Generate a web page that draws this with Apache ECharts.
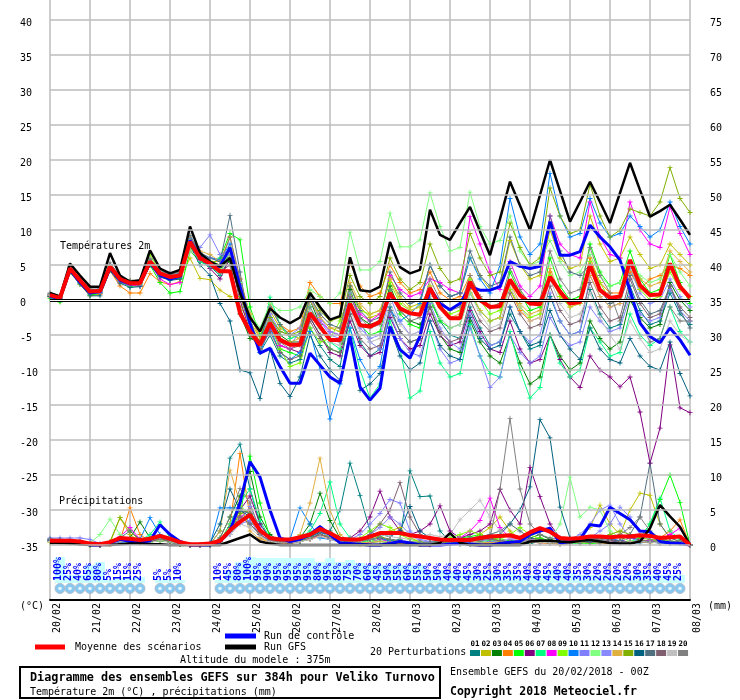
<!DOCTYPE html>
<html><head><meta charset="utf-8">
<script src="https://cdn.jsdelivr.net/npm/echarts/dist/echarts.min.js"></script>
<style>html,body{margin:0;padding:0;background:#fff}#c{width:740px;height:700px}</style>
</head><body><div id="c"></div>
<script>
// ---------- DATA ----------
const dates = ['20/02','21/02','22/02','23/02','24/02','25/02','26/02','27/02','28/02','01/03','02/03','03/03','04/03','05/03','06/03','07/03','08/03'];
const tempTicks = [40,35,30,25,20,15,10,5,0,-5,-10,-15,-20,-25,-30,-35];
const precipTicks = [75,70,65,60,55,50,45,40,35,30,25,20,15,10,5,0];

const tMean = [0.7,0.3,4.5,2.8,1.2,1.3,4.8,3.0,2.4,2.4,
 5.5,3.8,3.3,3.5,8.3,6.0,5.2,4.1,4.1,-1.9,
 -4.5,-6.4,-3.3,-5.7,-6.4,-6.4,-1.9,-3.8,-5.7,-5.7,
 -0.5,-3.6,-3.8,-3.1,1.0,-1.2,-1.9,-2.1,1.7,-1.0,
 -2.6,-2.6,2.6,0.0,-1.0,-0.9,2.9,0.7,-0.5,-0.6,
 3.3,1.2,-0.5,-0.3,5.0,1.4,0.3,0.5,5.7,2.1,
 0.7,0.8,5.2,1.9,0.3];
const tCtrl = [0.5,0.2,4.3,2.5,1.0,1.2,4.6,2.8,2.3,2.5,
 5.3,3.6,3.0,3.4,8.5,6.2,5.0,4.8,7.5,1.9,
 -3.3,-7.6,-6.9,-9.5,-11.9,-11.9,-7.6,-9.3,-11.0,-11.9,
 -5.2,-12.4,-14.3,-12.6,-3.8,-7.1,-8.3,-5.2,1.7,-0.5,
 -1.4,-0.5,1.9,1.4,1.4,1.9,5.5,4.8,4.5,4.8,
 11.2,6.4,6.4,6.9,10.7,9.0,7.6,5.7,1.4,-3.3,
 -5.2,-6.1,-4.0,-5.7,-7.9];
const tGfs = [1.0,0.5,5.2,3.5,1.9,1.9,6.7,3.5,2.6,2.8,
 7.1,4.5,3.8,4.3,10.5,6.7,5.5,4.8,6.0,1.0,
 -2.5,-4.5,-1.2,-2.5,-3.3,-2.5,1.0,-1.0,-2.8,-2.3,
 6.1,1.4,1.2,1.9,8.3,4.7,3.8,4.3,12.9,9.3,
 8.6,11.0,13.3,9.8,6.4,11.6,16.9,13.5,10.0,15.0,
 20.0,15.6,11.2,14.0,16.9,14.0,11.0,15.3,19.6,15.7,
 11.9,12.7,13.6,11.5,9.3];

const t01 = [0.5,0.1,4.2,2.5,0.8,1.0,4.5,2.6,2.0,2.1, 5.0,3.5,3.0,3.2,8.0,5.5,4.8,3.5,6.0,1.0, -4.0,-7.5,-5.0,-8.0,-9.0,-8.5,-4.0,-6.5,-8.5,-9.5, -2.0,-6.0,-8.0,-7.0,-1.0,-4.5,-6.0,-5.5,0.5,-3.0, -5.0,-5.5,-1.0,-4.0,-6.5,-6.0,-2.0,-4.5,-7.0,-6.5, 0.5,-3.0,-5.0,-4.5,1.5,-2.0,-4.0,-3.5,2.0,-1.5, -3.5,-3.0,1.0,-2.0,-3.5];
const t02 = [0.8,0.4,4.6,3.0,1.4,1.5,5.0,3.1,2.8,2.8, 5.5,3.6,3.2,3.0,6.0,3.1,2.9,1.4,0.5,-1.0, -3.0,-5.5,-1.5,-4.0,-5.0,-5.5,0.5,-2.5,-4.0,-4.5, 2.0,-1.0,-2.5,-2.0,3.0,0.5,-1.0,-0.5,5.0,2.0, 0.5,1.0,6.0,3.5,1.5,2.0,8.5,5.0,3.0,3.5, 10.0,6.0,4.5,5.0,12.0,8.0,5.5,6.0,9.0,6.5, 4.5,5.0,8.0,6.5,5.0];
const t03 = [0.6,0.2,4.4,2.7,1.1,1.2,4.7,2.9,2.3,2.3, 5.3,3.6,3.1,3.4,8.1,5.8,5.0,4.5,5.5,-2.0, -5.5,-6.0,-2.5,-5.0,-6.0,-6.0,0.0,-3.5,-5.5,-5.5, 1.5,-2.5,-3.5,-3.0,2.0,-1.5,-3.0,-3.5,-1.0,-5.0, -7.0,-7.5,-3.0,-6.0,-8.0,-9.0,-5.0,-9.0,-12.0,-11.0, -5.0,-8.0,-10.0,-9.0,-3.0,-5.5,-7.0,-6.0,0.0,-2.5, -4.0,-3.5,2.5,0.0,-1.5];
const t04 = [0.4,-0.2,4.0,2.2,0.6,0.8,4.2,2.0,1.0,1.0, 3.8,2.6,2.2,2.6,7.5,6.0,5.5,5.5,9.0,3.0, -2.0,-5.5,-0.5,-3.5,-4.5,-4.0,2.5,0.5,-0.5,-0.5, 5.3,2.0,0.5,1.0,5.0,2.5,1.0,1.5,4.0,1.0, 0.0,0.5,3.5,0.5,-1.0,-0.5,1.5,-1.5,-3.0,-2.5, 4.0,0.5,-0.5,0.0,6.0,2.5,1.0,1.0,4.0,1.5, 3.0,3.5,5.0,4.5,3.5];
const t05 = [0.2,-0.3,4.0,2.3,0.7,0.9,4.4,2.6,2.0,2.0, 5.0,2.5,1.0,1.2,7.0,5.5,5.0,6.0,9.5,8.6, -1.0,-5.0,-3.0,-7.0,-7.5,-8.0,-2.5,-5.0,-7.0,-7.5, 0.0,-3.5,-5.0,-4.5,1.5,-2.0,-3.5,-4.0,0.0,-3.0, -4.0,-3.5,1.0,-1.5,-3.0,-2.5,4.0,1.0,-1.5,-1.0, 6.0,2.0,0.0,0.5,8.0,4.0,2.0,2.5,7.0,3.0, 1.0,1.5,6.5,2.5,-0.5];
const t06 = [0.7,0.3,4.5,2.8,1.3,1.4,4.9,3.0,2.5,2.5, 5.4,3.7,3.2,3.4,8.2,5.8,4.5,3.0,6.0,0.0, -4.5,-7.0,-4.0,-6.5,-7.0,-7.5,-2.5,-5.0,-7.5,-8.0, -3.0,-6.5,-8.0,-7.5,-2.5,-5.5,-7.0,-6.5,-2.0,-5.0, -6.5,-6.0,-1.5,-4.5,-7.0,-7.5,-3.0,-7.0,-9.0,-8.5, -5.0,-8.5,-11.0,-12.5,-8.0,-10.0,-11.0,-12.4,-11.0,-16.0, -23.3,-18.3,-6.4,-15.4,-16.1];
const t07 = [0.5,0.0,4.2,2.5,0.9,1.0,4.5,2.7,2.1,2.2, 5.2,3.4,2.9,3.1,7.8,5.5,4.8,3.8,7.0,1.5, -3.0,-6.5,0.4,-3.5,-5.5,-5.0,-1.0,-4.0,-6.0,-7.0, -4.0,-10.0,-14.0,-12.0,-3.0,-7.0,-14.0,-13.0,-4.5,-9.0, -11.0,-10.5,-3.5,-8.0,-10.5,-11.0,-4.5,-10.0,-14.0,-12.5, -5.0,-9.0,-11.0,-10.0,-4.0,-6.0,-8.0,-7.5,-2.0,-5.0, -6.5,-5.5,-1.0,-4.5,-6.0];
const t08 = [0.8,0.4,4.6,2.7,1.0,1.0,4.6,2.6,2.1,2.0, 5.2,3.0,2.2,2.5,8.0,5.7,5.0,4.5,7.5,1.5, -3.5,-6.0,-4.0,-6.5,-7.0,-6.0,-2.0,-3.0,-4.5,-5.0, 0.5,-2.0,-3.0,-2.0,3.5,1.5,0.5,1.0,3.0,2.5, 1.5,1.0,11.9,8.0,4.0,1.5,5.5,2.0,0.5,2.0, 12.0,8.0,6.5,6.0,14.0,9.0,6.5,6.0,14.0,10.0, 8.0,7.5,13.3,9.5,6.5];
const t09 = [0.6,0.2,4.4,2.7,1.2,1.3,4.8,3.1,2.6,2.7, 6.5,4.0,3.3,3.6,7.5,6.2,5.6,5.0,6.5,2.0, -3.0,-7.0,-3.5,-7.0,-9.5,-9.0,-4.0,-6.0,-5.5,-3.0, 1.0,-1.5,-2.0,-1.5,2.5,-0.5,-1.5,-1.0,2.0,-1.0, -2.0,-1.5,3.0,0.0,-2.0,-1.5,1.5,-1.0,-2.5,-2.0, 3.5,0.5,-1.0,-0.5,5.5,2.5,0.0,0.5,4.5,1.5, 0.0,0.5,4.0,1.5,0.5];
const t10 = [0.6,0.2,4.3,2.6,1.0,1.1,4.6,2.8,2.2,2.3, 5.4,3.9,3.5,3.8,8.8,6.5,6.0,5.8,8.0,2.0, -4.0,-7.5,-4.0,-7.5,-8.5,-7.5,-4.5,-9.9,-17.0,-12.0, -4.0,-8.5,-11.0,-9.5,-1.5,-3.0,-2.0,-0.5,5.0,2.0, 0.5,1.0,6.0,3.0,1.0,5.0,14.5,9.0,6.5,8.0, 18.1,12.0,9.0,9.5,14.5,11.0,9.0,9.5,12.0,10.5, 9.0,10.0,14.0,10.5,8.0];
const t11 = [0.7,0.2,4.4,2.8,1.3,1.4,5.0,3.2,2.6,2.6, 5.6,4.0,3.5,3.7,8.5,7.5,9.3,6.5,7.0,2.0, -3.5,-6.5,-2.0,-5.5,-6.5,-4.5,0.0,-2.5,-4.5,-5.0, 1.0,-3.0,-6.0,-7.0,-2.0,-5.5,-7.5,-8.0,-3.0,-7.0, -9.0,-8.5,-4.0,-8.0,-12.5,-11.0,-5.0,-7.5,-9.0,-8.0, -2.5,-5.0,-6.5,-6.0,-1.0,-3.0,-4.5,-4.0,0.5,-2.0, -3.0,-2.5,1.5,-1.5,-3.0];
const t12 = [0.7,0.3,4.5,2.9,1.3,1.4,4.9,3.1,2.5,2.5, 5.5,3.9,3.4,3.6,8.3,6.1,5.3,4.5,7.5,2.5, -2.0,-4.0,-0.5,-1.5,-1.5,-1.0,1.5,0.5,-0.5,1.0, 9.7,4.3,4.3,5.5,12.4,7.6,7.6,8.6,15.3,10.5, 7.0,7.5,15.4,10.5,8.0,8.5,12.0,7.0,5.0,5.5, 8.5,5.5,3.5,4.0,6.5,3.5,2.0,2.5,5.0,3.5, 2.5,3.0,6.5,4.0,2.0];
const t13 = [0.6,0.2,4.3,2.7,1.2,1.3,4.7,2.9,2.3,2.4, 5.3,3.7,3.2,3.5,8.1,6.5,6.0,5.5,6.5,1.0, -3.5,-6.0,-2.0,-4.5,-5.0,-4.0,0.5,-3.0,-5.0,-5.5, -1.0,-4.0,-5.5,-5.0,0.5,-3.0,-5.0,-4.5,-0.5,-4.0, -6.0,-7.0,-2.0,-5.0,-6.5,-6.0,-1.0,-4.5,-6.0,-5.0, 1.0,-3.0,-5.0,-4.5,3.5,0.5,-1.0,-0.5,4.5,1.0, -0.5,0.0,3.0,0.5,-1.0];
const t14 = [0.6,0.1,4.3,2.6,1.0,1.2,4.6,2.8,2.2,2.3, 5.4,3.8,3.4,3.9,9.0,7.0,6.5,5.5,7.0,1.0, -2.0,-5.5,-3.0,-5.5,-6.0,-5.5,0.0,-2.5,-4.0,-4.0, 2.5,-0.5,-2.0,-1.5,3.0,0.0,-1.5,-1.0,2.0,-1.0, -2.5,-2.0,1.5,-1.5,-3.0,-2.5,2.5,-0.5,-2.0,-1.5, 4.5,1.0,-1.0,-0.5,3.5,0.5,-1.0,-0.5,5.5,3.0, 2.0,2.5,7.0,5.5,4.0];
const t15 = [0.7,0.3,4.6,2.9,1.3,1.4,5.0,3.1,2.5,2.5, 5.6,3.9,3.3,3.5,8.4,6.0,5.3,4.2,6.0,0.5, -3.5,-6.0,-2.5,-4.5,-5.0,-4.5,1.0,-1.5,-3.0,-2.5, 3.5,0.5,-0.5,0.5,6.0,3.0,1.5,2.5,8.0,4.5, 2.5,3.0,9.5,6.0,3.5,4.0,11.0,7.5,5.0,6.0, 16.0,12.0,9.5,10.0,16.5,12.0,9.0,10.0,13.0,12.5, 12.0,14.0,18.9,14.5,12.5];
const t16 = [0.5,0.0,4.0,2.3,0.6,0.6,4.2,2.4,1.8,1.9, 5.0,3.3,2.8,3.0,7.8,5.0,3.5,-0.5,-3.0,-10.0, -10.4,-14.1,-7.0,-11.9,-13.8,-11.0,-5.0,-8.0,-10.0,-11.5, -5.5,-12.9,-12.0,-10.5,-4.0,-8.0,-10.0,-9.0,-3.0,-6.5, -8.0,-8.5,-2.5,-5.5,-7.0,-6.5,-1.0,-4.5,-6.5,-6.0, -1.5,-5.0,-7.0,-8.5,-4.0,-7.0,-8.5,-9.0,-5.5,-8.0, -9.5,-10.0,-6.0,-10.5,-13.7];
const t17 = [0.9,0.5,4.8,3.0,1.5,1.6,5.1,3.3,2.7,2.8, 5.8,4.2,3.7,4.0,9.2,6.8,6.0,5.5,12.1,4.0, -4.0,-6.0,-1.0,-3.5,-5.0,-5.0,0.5,-2.0,-3.5,-4.0, 2.0,-1.5,-3.0,-2.5,4.0,1.0,-0.5,0.0,5.0,2.0, 0.5,1.0,7.0,3.5,2.0,2.5,9.0,5.0,3.5,4.0, 12.0,7.0,4.0,3.5,5.0,1.5,-0.5,0.0,3.5,0.0, -2.0,-1.5,2.0,-1.5,-4.0];
const t18 = [0.6,0.2,4.4,2.7,1.1,1.2,4.7,2.9,2.3,2.4, 5.4,3.8,3.3,3.5,8.2,5.9,5.1,4.0,5.0,-1.0, -5.0,-7.0,-4.5,-7.5,-8.5,-8.0,-3.0,-5.5,-7.0,-7.5, -2.0,-5.5,-7.0,-6.5,-1.5,-4.5,-6.0,-5.5,-1.0,-4.5, -6.0,-5.5,0.0,-3.0,-4.5,-4.0,1.0,-2.0,-4.0,-3.5, 2.0,-1.5,-3.5,-3.0,2.5,-1.0,-3.0,-2.5,3.0,-0.5, -2.5,-2.0,2.0,-1.0,-2.5];
const t19 = [0.7,0.3,4.5,2.8,1.2,1.3,4.8,3.0,2.4,2.4, 5.4,3.8,3.3,3.5,7.0,6.0,5.2,4.0,6.0,1.0, -3.5,-6.5,-3.0,-6.0,-6.5,-6.0,-1.5,-4.0,-6.0,-6.5, -1.5,-4.5,-6.0,-5.5,-0.5,-3.5,-5.0,-4.5,0.5,-2.5, -4.0,-3.5,1.0,-2.0,-4.0,-3.5,2.0,-1.0,-3.0,-2.5, 3.0,-0.5,-2.5,-2.0,1.0,-2.5,-5.0,-7.0,-3.0,-5.5, -7.5,-7.0,-3.0,-5.0,-6.0];
const t20 = [1.0,0.6,5.0,3.3,1.7,1.8,5.3,3.4,2.8,2.9, 5.9,4.2,3.6,3.9,9.0,6.6,5.5,5.0,9.0,3.0, -3.0,-6.5,-3.0,-6.0,-7.0,-6.5,-1.0,-3.5,-5.5,-6.0, 0.5,-2.5,-4.0,-3.5,1.5,-1.5,-3.0,-2.5,3.0,0.0, -1.5,-1.0,3.5,0.5,-1.0,-0.5,4.5,1.5,-0.5,0.0, 7.0,3.0,1.0,1.5,7.5,3.5,1.0,-3.0,1.0,-3.0, -6.0,-5.5,-1.0,-3.0,-3.0];

const pMean = [0.6,0.6,0.6,0.5,0.2,0.1,0.4,1.0,0.9,0.7, 0.9,1.3,0.9,0.4,0.1,0.1,0.2,0.6,2.1,3.3, 4.3,2.1,1.0,0.8,0.8,1.1,1.5,2.3,1.7,0.9, 0.8,0.8,1.2,1.7,1.7,1.7,1.4,1.2,1.0,0.8, 0.7,0.7,0.7,1.0,1.2,1.3,1.4,1.0,1.8,2.4, 1.9,1.0,0.9,1.0,1.2,1.2,1.1,1.2,1.2,1.4, 1.3,1.0,1.1,1.2,0.0];
const pCtrl = [0.5,0.5,0.4,0.3,0,0,0.3,0.8,0.5,0.3, 0.6,2.9,1.5,0.5,0,0,0,0.5,2.0,6.0, 11.9,9.7,5.0,1.0,0.5,0.8,1.5,2.6,1.5,0.3, 0.2,0.1,0,0,0.2,0.5,0.3,0,0,0, 0.1,0.2,0.1,0,0,0.2,0.4,0.5,1.5,2.0, 2.4,0.3,0.5,0.8,2.9,2.7,5.4,4.5,3.6,2.0, 1.9,0.5,0.3,0.2,0];
const pGfs = [0.3,0.3,0.2,0.1,0,0,0,0.1,0.2,0.2, 0.1,0.1,0,0,0,0,0,0,0.5,1.0, 1.5,0.5,0.2,0,0,0,0,0,0,0, 0,0,0,0,0,0,0,0,0,0.3, 1.7,0.3,0,0,0,0,0,0,0.5,0.6, 0.6,0.5,0.4,0.6,0.7,0.5,0.3,0.2,0.2,0.5, 2.4,5.7,4.1,2.6,0];

const p01 = [0.8,0.7,0.6,0.4,0.1,0,0.2,0.6,0.5,0.3, 0.5,0.9,0.6,0.2,0,0,0.1,2.0,12.4,14.4, 8.0,3.0,1.0,0.5,0.3,0.6,1.0,1.5,2.0,5.0, 11.7,7.1,2.0,1.0,0.5,0.8,10.6,6.9,7.0,2.0, 0.5,0.2,0.1,0.3,0.5,0.4,0.6,0.3,0.2,0.5, 0.3,0.1,0.2,0.4,0.6,0.5,0.3,0.2,0.4,0.5, 0.6,0.3,0.2,0.3,0];
const p02 = [0.5,0.5,0.4,0.3,0,0,0.3,3.9,1.5,0.5, 0.6,1.0,0.8,0.2,0,0,0,0.5,2.5,4.5, 3.0,1.5,0.5,0.3,0.5,1.0,1.5,2.5,1.0,0.5, 0.3,0.5,1.0,1.5,2.0,2.5,1.0,0.5,0.3,0.2, 0.5,1.0,0.8,1.5,2.5,4.0,2.0,0.8,0.5,1.0, 0.5,0.3,0.5,1.0,2.5,5.7,3.0,1.5,5.0,7.4, 7.1,3.0,1.0,0.5,0];
const p03 = [0.6,0.6,0.5,0.4,0.1,0,0.2,0.8,1.0,3.3, 1.0,0.6,0.4,0.1,0,0,0,1.0,4.0,7.0, 10.5,4.0,1.5,0.5,0.5,1.0,3.0,7.4,3.5,1.0, 0.5,0.3,0.8,1.0,0.8,0.5,0.3,0.2,0.1,0.3, 0.2,0.1,0.3,0.5,0.6,0.8,0.5,0.3,1.0,1.5, 0.8,0.4,0.3,0.5,0.8,0.6,0.4,0.3,0.5,0.6, 0.5,0.8,0.4,0.3,0];
const p04 = [0.4,0.4,0.3,0.2,0,0,0.1,0.6,5.3,1.5, 0.5,0.8,0.6,0.1,0,0,0,0.5,3.0,13.1, 4.0,1.0,0.4,0.3,0.2,0.5,0.8,1.2,0.8,0.4, 0.2,0.1,0.3,0.5,0.4,0.3,0.2,0.1,0,0.1, 0.2,0.3,0.2,0.1,0.3,0.4,0.3,0.2,0.4,0.3, 0.2,0.1,0.2,0.3,0.4,0.3,0.2,0.3,0.5,0.4, 0.5,1.0,2.0,3.6,0];
const p05 = [0.5,0.5,0.4,0.3,0,0,0.3,0.5,0.4,0.3, 0.4,0.6,0.5,0.1,0,0,0,0.8,2.0,4.0, 12.7,6.0,1.0,0.5,0.3,0.5,0.8,1.5,1.0,0.6, 0.4,0.3,0.5,0.8,0.6,0.4,0.3,0.2,0.3,0.5, 0.8,1.0,1.2,1.5,1.0,0.8,0.6,0.5,0.8,1.0, 0.6,0.4,0.5,0.3,0.2,0.3,0.4,0.3,0.5,1.0, 3.0,6.5,10.0,6.1,0];
const p06 = [0.6,0.5,0.4,0.3,0.1,0,0.3,0.8,0.6,0.4, 0.8,1.2,0.8,0.2,0,0,0,0.4,2.5,5.0, 7.0,3.0,1.0,0.5,0.4,0.8,1.5,2.0,1.5,0.8, 1.0,2.0,4.0,7.7,4.0,2.0,1.5,2.0,3.0,5.6, 2.0,1.0,1.5,2.0,3.0,7.9,5.0,3.0,11.1,6.9, 3.0,1.0,0.5,0.3,0.5,1.0,0.8,0.5,1.0,0.8, 0.5,0.4,0.3,0.5,0];
const p07 = [0.5,0.5,0.4,0.3,0,0,0.2,0.6,0.5,0.6, 1.5,3.3,1.0,0.2,0,0,0,0.5,3.0,6.0, 8.0,3.5,1.0,0.5,0.5,1.0,2.0,4.5,9.0,3.0, 1.0,0.5,0.4,0.5,0.3,0.4,0.2,0.3,0.4,0.3, 0.5,0.3,0.2,0.4,0.6,0.5,0.4,0.3,0.8,0.5, 0.4,0.3,0.2,0.3,0.5,0.4,0.3,0.4,0.5,1.0, 3.0,6.7,2.0,0.8,0];
const p08 = [0.6,0.5,0.5,0.3,0.1,0,0.3,1.2,2.5,0.8, 0.5,0.8,0.5,0.1,0,0,0,0.5,2.0,4.0, 5.0,2.0,0.8,0.4,0.3,0.6,0.8,1.5,1.0,0.5, 0.3,0.2,0.4,0.8,0.5,0.3,0.2,0.2,0.1,0.2, 0.5,1.0,2.0,3.5,6.7,2.5,1.0,0.5,0.8,0.5, 0.3,0.2,0.3,0.5,0.4,0.3,0.5,0.4,0.3,0.5, 0.6,0.8,1.5,2.4,0];
const p09 = [0.5,0.4,0.4,0.3,0,0,0.3,0.5,0.6,0.4, 0.8,1.0,0.6,0.1,0,0,0,0.6,2.5,5.5, 4.5,2.0,0.8,0.5,0.4,0.6,1.0,2.0,1.5,0.8, 0.5,1.0,2.0,3.0,2.5,1.5,0.8,0.5,0.4,0.6, 1.0,1.5,2.0,1.5,1.0,0.8,1.5,2.5,1.5,0.8, 0.5,0.3,0.4,0.6,0.5,0.4,0.3,0.5,0.4,0.6, 0.5,0.8,0.6,0.4,0];
const p10 = [0.7,0.6,0.5,0.3,0.1,0,0.2,0.4,0.5,0.8, 3.9,1.5,0.5,0.1,0,0,0,5.3,5.3,5.3, 3.0,1.5,0.5,0.3,0.8,5.3,3.0,1.0,0.8,0.5, 0.3,0.5,0.8,1.0,0.6,0.4,0.3,0.2,0.3,0.5, 0.4,0.6,0.5,0.8,1.0,0.6,0.4,0.5,0.6,0.4, 0.3,0.2,0.4,0.6,0.5,0.8,1.0,0.6,0.4,0.3, 0.5,0.4,0.3,0.2,0];
const p11 = [1.0,1.0,1.0,1.0,0.8,0.2,0.3,1.0,0.8,0.5, 0.6,1.0,0.6,0.2,0,0,0,0.5,1.5,3.0, 3.5,1.5,0.6,0.4,0.5,0.8,1.5,2.0,1.0,0.5, 0.8,1.5,3.0,4.5,6.5,6.0,2.0,0.8,0.5,0.3, 0.4,0.5,0.3,0.6,0.8,0.5,0.4,0.6,0.5,0.3, 0.4,0.3,0.5,0.8,1.0,2.0,3.0,5.4,4.0,1.5, 0.8,0.5,0.4,0.3,0];
const p12 = [0.4,0.4,0.3,0.2,0.3,1.5,3.7,1.5,0.6,0.4, 0.5,0.8,0.5,0.1,0,0,0,0.4,2.0,3.5, 4.0,2.0,0.8,0.5,0.4,0.6,1.2,2.0,1.5,0.6, 0.4,0.3,0.5,0.6,0.4,0.3,0.2,0.3,0.2,0.4, 0.6,0.8,0.5,0.4,0.6,0.8,0.5,0.4,0.6,0.5, 0.6,3.0,9.7,4.0,5.4,5.0,2.0,1.0,0.6,0.5, 0.4,0.6,0.5,0.3,0];
const p13 = [0.6,0.6,0.5,0.4,0.1,0,0.2,0.6,0.5,0.4, 0.7,1.0,0.6,0.2,0,0,0,0.5,1.5,3.5, 5.5,2.5,0.8,0.4,0.3,0.5,1.0,1.8,1.2,0.6, 0.5,0.8,1.5,2.5,4.0,3.0,1.5,0.6,0.4,0.3, 0.5,0.6,0.4,0.3,0.5,0.6,0.8,1.0,0.6,0.4, 0.3,0.5,0.8,1.5,3.0,5.0,5.7,3.0,1.0,0.5, 0.4,0.3,0.5,0.4,0];
const p14 = [0.4,0.4,0.3,0.2,0,0,0.2,0.5,0.6,0.4, 0.5,0.7,0.5,0.1,0,0,0,2.0,10.7,6.0, 2.0,0.8,0.5,0.4,0.6,1.5,6.0,12.4,5.0,1.5, 0.5,0.3,0.4,0.5,0.3,0.2,0.2,0.1,0.2,0.3, 0.2,0.3,0.5,0.4,0.3,0.5,0.4,0.3,0.5,0.4, 0.3,0.2,0.3,0.4,0.3,0.5,0.4,0.3,0.5,0.4, 0.3,0.4,0.5,0.3,0];
const p15 = [0.5,0.5,0.4,0.3,0,0,0.5,3.9,2.0,0.6, 0.5,0.8,0.5,0.1,0,0,0,0.4,2.0,4.5, 5.0,2.0,0.8,0.5,0.4,0.6,1.0,1.5,1.2,0.6, 0.4,0.5,0.8,1.2,0.8,0.5,0.4,0.3,0.2,0.3, 0.4,0.5,0.8,1.2,1.0,0.6,0.4,0.5,0.6,0.4, 0.3,0.4,0.5,0.6,0.8,1.0,1.5,2.0,1.5,1.0, 0.8,0.6,0.5,0.4,0];
const p16 = [0.7,0.6,0.5,0.4,0.1,0,0.3,0.7,0.6,0.4, 0.6,0.9,0.6,0.2,0,0,0.3,3.0,8.0,5.0, 4.0,2.0,0.8,0.5,0.5,0.8,1.2,1.8,1.5,0.8, 0.6,0.8,1.0,1.5,1.2,2.0,5.5,2.0,1.0,0.5, 0.4,0.5,0.6,0.8,1.0,1.5,3.0,5.0,8.3,17.9, 15.3,5.4,1.0,0.5,0.4,0.5,0.6,0.4,0.3,0.5, 0.4,0.3,0.5,0.4,0];
const p17 = [0.8,0.7,0.6,0.4,0.1,0,0.3,1.0,2.0,0.8, 0.6,1.0,0.7,0.2,0,0,0,0.6,2.5,5.0, 4.5,2.0,0.8,0.5,0.4,0.8,1.5,2.5,1.5,0.8, 0.5,0.6,0.8,1.0,0.8,0.6,0.4,0.3,0.4,0.5, 0.6,0.8,1.0,1.2,1.5,2.0,3.0,2.0,1.0,0.8, 0.6,0.5,0.4,0.5,0.8,1.0,0.8,0.6,1.5,4.0, 11.7,3.0,1.0,0.5,0];
const p18 = [0.6,0.5,0.5,0.3,0.1,0,0.2,0.6,0.5,0.3, 0.5,0.8,0.6,0.1,0,0,0,0.5,2.0,4.0, 3.0,1.5,0.6,0.4,0.3,0.5,1.0,1.5,1.0,0.5, 0.4,0.6,1.5,3.0,5.0,8.9,4.0,1.5,0.8,0.5, 0.4,0.6,0.8,1.0,0.8,0.6,0.5,0.4,0.6,0.5, 0.4,0.5,0.6,0.8,1.0,0.8,0.6,0.5,0.4,0.6, 0.5,0.4,0.3,0.2,0];
const p19 = [0.5,0.4,0.4,0.3,0,0,0.2,0.5,0.4,0.3, 0.4,0.6,0.4,0.1,0,0,0,0.4,1.5,3.0, 2.5,1.2,0.5,0.3,0.3,0.5,0.8,1.2,0.8,0.4, 0.3,0.5,1.0,1.5,1.2,1.0,0.8,1.2,1.5,1.2, 1.5,3.6,5.0,6.4,4.0,2.0,1.0,0.6,0.5,0.4, 0.3,0.4,0.5,0.6,0.8,0.6,0.4,0.3,0.4,0.5, 0.4,0.3,0.4,0.3,0];
const p20 = [0.9,0.8,0.6,0.4,0.1,0,0.3,0.8,0.6,0.4, 0.6,1.0,0.7,0.2,0,0,0,1.0,4.0,8.1, 6.0,2.0,0.8,0.5,0.4,0.8,1.5,2.0,1.5,0.8, 0.5,0.6,0.8,1.0,0.8,0.6,0.5,0.4,0.3,0.5, 0.6,0.8,1.0,0.6,1.0,8.0,18.1,8.0,3.0,1.5, 1.0,0.8,0.6,0.5,0.6,0.8,1.0,1.5,2.5,4.0, 2.0,1.0,0.6,0.4,0];

// snow probability (%) and snow cover height, per 6h slot (slots 1..63)
const snowPct = [100,25,40,65,80,5,15,15,25,null, 5,5,10,null,null,null,10,45,80,100, 95,90,95,95,95,95,80,95,85,75, 70,60,45,50,55,60,55,50,50,40, 40,45,30,25,30,35,35,40,40,45, 40,40,35,30,20,20,20,20,30,35, 40,45,25];
const snowCover = [26,8,8,18,21,3,5,5,6,null, 3,3,3,null,null,null,3,13,21,26, 25,25,25,25,25,25,21,25,21,23, 20,18,18,18,18,18,18,13,13,11, 11,11,11,11,11,11,8,8,8,13, 13,10,8,8,8,8,8,8,11,8, 8,8,8];

const pertTemps = [t01,t02,t03,t04,t05,t06,t07,t08,t09,t10,t11,t12,t13,t14,t15,t16,t17,t18,t19,t20];
const pertPrecips = [p01,p02,p03,p04,p05,p06,p07,p08,p09,p10,p11,p12,p13,p14,p15,p16,p17,p18,p19,p20];
const pertNames = ['01','02','03','04','05','06','07','08','09','10','11','12','13','14','15','16','17','18','19','20'];
const pertColors = ['#008080','#c0c000','#008000','#ff8000','#00ff00','#800080','#00ff80','#ff00ff','#80ff00','#0080ff','#8080ff','#80ff80','#8888ff','#e0b040','#80b000','#006080','#507080','#806070','#c0c0c0','#808080'];

// ---------- CHART ----------
const F = '"DejaVu Sans Mono", monospace';
const GRID = '#bcbcbc';
const plus = 'path://M-0.5,-3H0.5V-0.5H3V0.5H0.5V3H-0.5V0.5H-3V-0.5H-0.5Z';
const pair = a => a.map((v, i) => [i, v]);
const isTick = (v, list) => Math.abs(v - Math.round(v)) < 1e-6 && list.includes(Math.round(v));

const series = [];
series.push({type:'line', data:[], silent:true, z:1,
  markLine:{silent:true, symbol:['none','none'], label:{show:false}, animation:false,
    lineStyle:{color:GRID, width:1.5, type:'solid'}, emphasis:{disabled:true},
    data: tempTicks.map(v => ({yAxis:v}))}});
series.push({type:'line', data:[], silent:true, z:1,
  markLine:{silent:true, symbol:['none','none'], label:{show:false}, animation:false,
    lineStyle:{color:'#000', width:3, type:'solid'}, emphasis:{disabled:true}, data:[{yAxis:0}]}});
series.push({type:'line', data:[], silent:true, z:1,
  markLine:{silent:true, symbol:['none','none'], label:{show:false}, animation:false,
    lineStyle:{color:'#fff', width:1, type:'solid'}, emphasis:{disabled:true}, data:[{yAxis:0}]}});

const thin = (name, data, color, yi) => ({
  name, type:'line', data: pair(data), yAxisIndex: yi, symbol: plus, symbolSize: 5, showSymbol: true,
  lineStyle:{color, width:1}, itemStyle:{color}, silent:true, z:2, emphasis:{disabled:true}
});
const thick = (name, data, color, w, yi) => ({
  name, type:'line', data: pair(data), yAxisIndex: yi, symbol:'none',
  lineStyle:{color, width:w}, itemStyle:{color}, silent:true, z:3, emphasis:{disabled:true}
});
pertPrecips.forEach((d, j) => series.push(thin('P' + pertNames[j], d, pertColors[j], 1)));
pertTemps.forEach((d, j) => series.push(thin('T' + pertNames[j], d, pertColors[j], 0)));
series.push(thick('pCtrl', pCtrl, '#0000ff', 3, 1));
series.push(thick('pGfs', pGfs, '#000000', 2.5, 1));
series.push(thick('pMean', pMean, '#ff0000', 4, 1));
series.push(thick('tCtrl', tCtrl, '#0000ff', 3, 0));
series.push(thick('tGfs', tGfs, '#000000', 2.5, 0));
series.push(thick('tMean', tMean, '#ff0000', 4, 0));

// snow strip
const coverData = snowCover.map((v, k) => v == null ? null : [k + 1, v]).filter(d => d);
const pctData = snowPct.map((v, k) => v == null ? null : [k + 1, v]).filter(d => d);
series.push({type:'bar', xAxisIndex:1, yAxisIndex:2, data: coverData, barWidth:10, barGap:'-100%',
  itemStyle:{color:'#c8ffff'}, silent:true, z:4, emphasis:{disabled:true}});
series.push({type:'custom', xAxisIndex:1, yAxisIndex:2, data: pctData, silent:true, z:5, clip:false,
  renderItem: function (params, api) {
    const p = api.coord([api.value(0), 0]);
    return {type:'group', children:[
      {type:'circle', shape:{cx:p[0], cy:p[1] + 5.5, r:5}, style:{fill:'#86c8f0', stroke:'#b0bccc', lineWidth:1}},
      {type:'circle', shape:{cx:p[0], cy:p[1] + 5.5, r:1.8}, style:{fill:'#e4f6ff'}},
      {type:'text', x:p[0] - 1.5, y:p[1] - 2, rotation: Math.PI / 2,
        style:{text: api.value(1) + '%', fill:'#0000ff', font:'bold 10px ' + F,
          align:'left', textAlign:'left', verticalAlign:'middle', textVerticalAlign:'middle'}}
    ]};
  }});

// graphic legend
const txt = (x, y, text, font, extra) => Object.assign({type:'text', x, y, silent:true, z:100,
  style:{text, font: font || ('10px ' + F), fill:'#000', align:'left', textAlign:'left',
    verticalAlign:'middle', textVerticalAlign:'middle'}}, extra || {});
const ln = (x1, y1, x2, y2, color, w) => ({type:'line', silent:true, z:100, shape:{x1, y1, x2, y2}, style:{stroke:color, lineWidth:w}});
const elements = [
  txt(60, 246, 'Températures 2m'),
  txt(59, 501, 'Précipitations'),
  txt(20, 606, '(°C)'),
  txt(708, 606, '(mm)'),
  ln(35, 647, 65, 647, '#ff0000', 5),
  txt(75, 647, 'Moyenne des scénarios'),
  ln(225, 636, 256, 636, '#0000ff', 5),
  txt(264, 636, 'Run de contrôle'),
  ln(225, 647, 256, 647, '#000000', 5),
  txt(264, 647, 'Run GFS'),
  txt(180, 660, 'Altitude du modele : 375m'),
  {type:'rect', silent:true, z:100, shape:{x:20, y:667, width:420, height:31}, style:{fill:'#fff', stroke:'#000', lineWidth:2}},
  txt(30, 677.5, 'Diagramme des ensembles GEFS sur 384h pour Veliko Turnovo', 'bold 11.8px ' + F, {z:101}),
  txt(30, 692, 'Température 2m (°C) , précipitations (mm)', null, {z:101}),
  txt(370, 652, '20 Perturbations'),
  txt(450, 672, 'Ensemble GEFS du 20/02/2018 - 00Z'),
  txt(450, 692, 'Copyright 2018 Meteociel.fr', 'bold 11.5px ' + F)
];
pertColors.forEach((c, j) => {
  const x = 470 + j * 10.95;
  elements.push({type:'rect', silent:true, z:100, shape:{x, y:650, width:10, height:6}, style:{fill:c}});
  elements.push({type:'text', x: x + 5, y: 644, silent:true, z:100,
    style:{text: pertNames[j], font:'bold 7.5px ' + F, fill:'#000', align:'center', textAlign:'center', verticalAlign:'middle', textVerticalAlign:'middle'}});
});

const option = {
  animation:false,
  backgroundColor:'#ffffff',
  textStyle:{fontFamily: F},
  grid:[
    {left:50, top:0, width:640, height:600, containLabel:false, outerBoundsMode:'none'},
    {left:50, top:545, width:640, height:38, containLabel:false, outerBoundsMode:'none'}
  ],
  xAxis:[
    {gridIndex:0, type:'value', min:0, max:64, interval:4,
      axisLine:{show:true, onZero:false, lineStyle:{color:'#000', width:2}},
      axisTick:{show:false},
      axisLabel:{rotate:90, margin:3, fontFamily:F, fontSize:10, color:'#000', verticalAlign:'top', lineHeight:15,
        formatter: v => dates[Math.round(v / 4)] || ''},
      splitLine:{show:true, lineStyle:{color:GRID, width:1.5}}},
    {gridIndex:1, type:'value', min:0, max:64, show:false}
  ],
  yAxis:[
    {gridIndex:0, type:'value', min:-300/7, max:300/7, splitNumber:17, minInterval:5, maxInterval:5,
      axisLine:{show:false}, axisTick:{show:false}, splitLine:{show:false},
      axisLabel:{align:'left', margin:30, verticalAlign:'top', lineHeight:7, fontFamily:F, fontSize:10, color:'#000',
        formatter: v => isTick(v, tempTicks) ? String(Math.round(v)) : ''}},
    {gridIndex:0, type:'value', position:'right', min:-300/7 + 35, max:300/7 + 35, splitNumber:17, minInterval:5, maxInterval:5,
      axisLine:{show:false}, axisTick:{show:false}, splitLine:{show:false},
      axisLabel:{align:'left', margin:20, verticalAlign:'top', lineHeight:7, fontFamily:F, fontSize:10, color:'#000',
        formatter: v => isTick(v, precipTicks) ? String(Math.round(v)) : ''}},
    {gridIndex:1, type:'value', min:0, max:38, show:false}
  ],
  series,
  graphic:{elements}
};
const chart = echarts.init(document.getElementById('c'), null, {renderer:'canvas'});
chart.setOption(option);
</script></body></html>
